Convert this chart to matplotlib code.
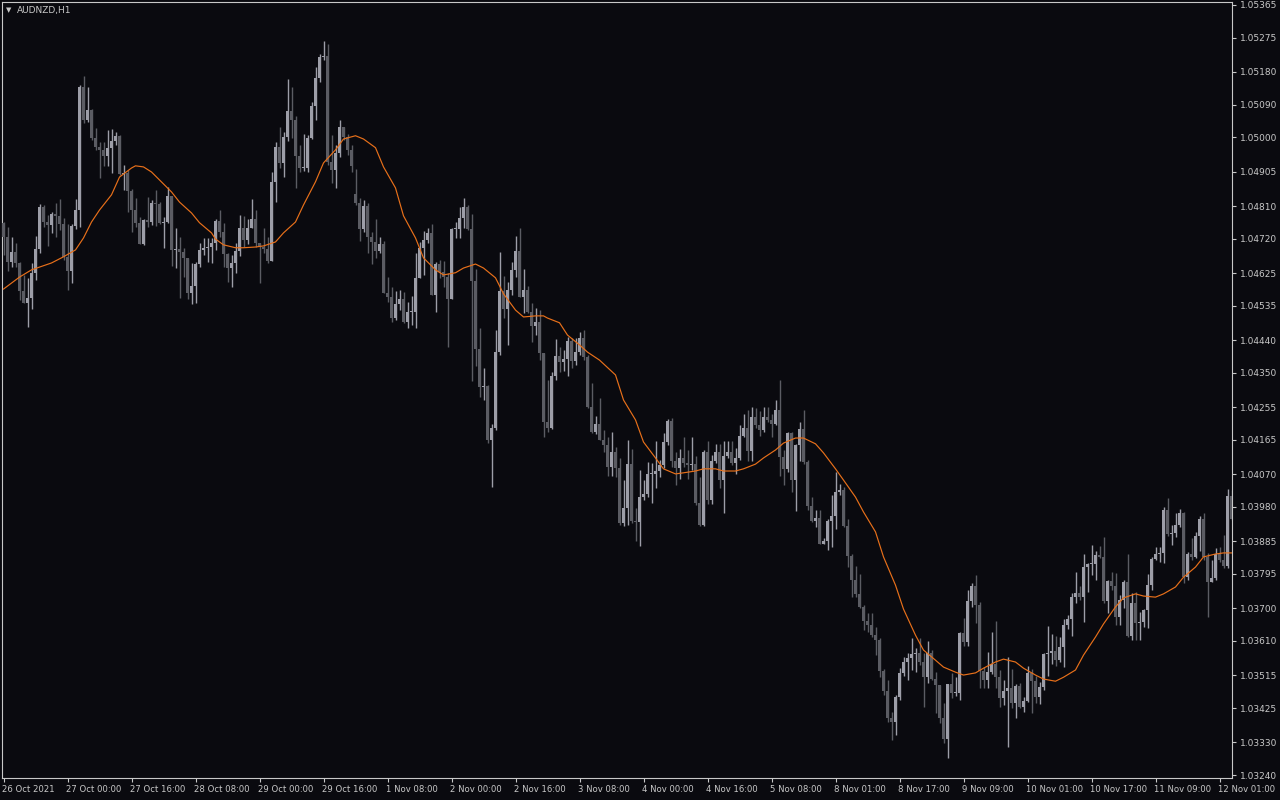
import numpy as np
import matplotlib
matplotlib.use("Agg")
import matplotlib.pyplot as plt
from matplotlib.transforms import ScaledTranslation

symbol_title = "AUDNZD,H1"

# prices in points (1e-5)
first_open_pts = 104764
gap_opens_pts = {88: 104844}

closes_pts = [
104725,104656,104683,104653,104576,104543,104557,104626,104692,104808,104766,104758,104788,104783,104761,104670,
104631,104755,104799,105139,105048,105075,104998,104973,104965,104948,104971,104990,105004,104899,104902,104852,
104799,104764,104706,104772,104766,104819,104816,104764,104766,104838,104689,104692,104683,104667,104570,104590,
104650,104689,104695,104697,104708,104769,104739,104678,104639,104653,104686,104750,104717,104750,104775,104708,
104697,104692,104659,104877,104973,104929,105001,105073,105048,104948,104915,104915,104998,105086,105164,105222,
105224,104932,104910,104957,105028,105001,104965,104921,104819,104747,104810,104725,104711,104686,104706,104570,
104559,104501,104540,104554,104490,104518,104518,104612,104695,104717,104736,104565,104650,104628,104614,104554,
104747,104747,104777,104808,104747,104603,104416,104311,104314,104165,104198,104407,104576,104526,104579,104634,
104686,104559,104579,104518,104479,104490,104405,104214,104198,104341,104396,104380,104388,104438,104383,104407,
104446,104394,104256,104187,104209,104165,104151,104090,104131,104087,103936,103977,104098,103941,103938,104007,
104016,104071,104071,104079,104096,104159,104217,104107,104087,104115,104101,104096,104098,103991,103930,104131,
103999,104107,104131,104054,104120,104131,104101,104115,104176,104198,104134,104228,104206,104192,104228,104220,
104209,104247,104118,104085,104184,104054,104151,104195,104104,103982,103941,103949,103878,103886,103941,103955,
104021,104027,103927,103844,103778,103740,103704,103665,103654,103626,103613,103527,103472,103397,103386,103455,
103522,103552,103563,103574,103577,103552,103510,103577,103505,103488,103397,103339,103491,103466,103466,103632,
103607,103720,103762,103709,103527,103502,103524,103546,103510,103453,103472,103480,103439,103486,103428,103444,
103522,103499,103455,103483,103574,103577,103582,103557,103593,103654,103671,103731,103742,103731,103814,103822,
103822,103847,103842,103720,103775,103762,103676,103723,103773,103624,103715,103660,103662,103695,103764,103836,
103850,103853,103971,103905,103908,103930,103963,103786,103850,103842,103900,103947,103842,103773,103784,103850,
103833,103817,104010,103947,
]

highs_pts = [
104766,104752,104725,104708,104656,104620,104612,104653,104728,104816,104813,104786,104794,104819,104830,104777,
104761,104761,104830,105144,105169,105139,105078,105026,104987,104987,105020,105023,105015,105006,104924,104910,
104857,104833,104780,104775,104835,104827,104855,104821,104780,104863,104838,104750,104725,104695,104667,104653,
104656,104708,104722,104722,104722,104775,104799,104764,104681,104675,104708,104786,104783,104775,104830,104799,
104708,104750,104725,104904,104987,105028,105015,105161,105139,105059,104979,105009,105006,105097,105194,105230,
105266,105258,105006,104979,105048,105028,105009,104979,104913,104833,104827,104819,104739,104775,104725,104714,
104614,104587,104576,104579,104573,104545,104562,104681,104711,104741,104750,104761,104656,104661,104659,104626,
104750,104766,104808,104833,104813,104788,104637,104474,104363,104316,104209,104468,104683,104617,104601,104656,
104728,104750,104637,104590,104543,104529,104523,104399,104330,104352,104443,104421,104413,104449,104446,104446,
104463,104468,104399,104322,104231,104281,104192,104173,104187,104145,104115,104054,104165,104140,103977,104082,
104054,104104,104101,104162,104109,104184,104223,104225,104131,104140,104173,104137,104173,104120,104062,104137,
104162,104123,104154,104154,104162,104162,104162,104143,104206,104236,104247,104256,104253,104245,104256,104256,
104236,104275,104330,104137,104187,104187,104154,104214,104247,104109,104007,103971,103971,103894,103947,104013,
104076,104043,104035,103947,103850,103817,103795,103709,103687,103687,103648,103618,103533,103502,103414,103461,
103535,103566,103577,103618,103591,103618,103577,103610,103585,103524,103488,103439,103491,103522,103510,103635,
103673,103751,103770,103792,103717,103538,103579,103635,103665,103530,103502,103566,103533,103491,103494,103455,
103541,103533,103513,103497,103577,103651,103629,103624,103621,103671,103682,103742,103800,103762,103850,103825,
103875,103858,103872,103897,103778,103800,103798,103737,103778,103850,103742,103745,103690,103698,103795,103842,
103869,103869,103980,104005,103930,103963,103974,103966,103855,103894,103911,103955,103963,103853,103833,103867,
103869,103902,104029,104027,
]

lows_pts = [
104675,104631,104642,104642,104551,104543,104476,104526,104606,104681,104752,104700,104736,104725,104744,104661,
104579,104598,104747,104752,105040,105042,104993,104965,104888,104921,104921,104902,104979,104896,104855,104794,
104739,104752,104706,104703,104752,104758,104755,104761,104695,104764,104645,104639,104557,104614,104554,104540,
104543,104642,104675,104656,104653,104689,104725,104642,104601,104587,104626,104672,104697,104706,104750,104697,
104598,104681,104653,104659,104821,104915,104890,104990,104998,104860,104904,104907,104904,104995,105048,105153,
105213,104924,104874,104860,104946,104993,104951,104904,104813,104714,104739,104681,104650,104667,104681,104570,
104545,104490,104496,104523,104488,104474,104482,104474,104612,104620,104708,104565,104518,104612,104587,104421,
104557,104722,104722,104750,104744,104327,104369,104283,104275,104156,104035,104192,104399,104501,104427,104565,
104614,104559,104515,104515,104435,104454,104385,104173,104187,104195,104330,104352,104355,104341,104363,104372,
104399,104385,104253,104184,104181,104165,104131,104065,104065,104062,103930,103927,103930,103936,103886,103872,
103999,104007,103991,104032,104062,104087,104151,104090,104040,104057,104090,104057,104082,103985,103927,103927,
103988,103988,104101,104032,103963,104115,104096,104071,104109,104173,104107,104107,104198,104176,104187,104214,
104173,104206,104065,104040,104076,104021,103969,104107,104098,103971,103938,103924,103878,103878,103861,103869,
103919,104013,103924,103814,103731,103731,103701,103640,103635,103621,103571,103510,103461,103386,103337,103350,
103447,103513,103502,103530,103524,103544,103428,103494,103502,103411,103384,103328,103287,103453,103458,103447,
103596,103596,103704,103660,103480,103480,103480,103519,103480,103428,103433,103317,103425,103397,103425,103414,
103441,103411,103439,103436,103475,103513,103546,103541,103552,103538,103643,103624,103715,103723,103662,103745,
103792,103778,103839,103715,103687,103751,103654,103654,103701,103621,103613,103613,103613,103648,103646,103751,
103833,103828,103825,103900,103875,103897,103924,103770,103778,103833,103839,103858,103833,103676,103773,103778,
103828,103811,103811,103944,
]

# smoothed moving average (orange) read at candle indices
ma_idx = [0,4,7,12,15,18,20,22,24,27,29,32,33,35,37,39,42,44,47,49,52,53,55,58,60,63,65,68,70,73,75,78,80,83,85,88,
          90,93,95,98,100,103,105,108,110,113,115,118,120,123,125,128,130,133,135,136,139,141,144,146,149,153,155,158,
          160,163,165,168,170,173,175,178,180,183,185,188,190,193,195,198,200,203,205,208,210,213,215,218,220,223,225,
          228,230,233,235,238,240,243,245,248,250,253,255,258,260,263,265,268,270,273,275,278,280,283,285,288,290,293,
          295,298,300,303,305,307]
ma_pts = [104581,104614,104634,104653,104670,104689,104722,104766,104799,104841,104890,104915,104921,104918,104904,
          104882,104849,104821,104791,104764,104736,104719,104703,104695,104695,104697,104700,104711,104736,104766,
          104813,104877,104929,104965,104995,105004,104995,104971,104918,104860,104783,104722,104667,104634,104620,
          104626,104639,104650,104639,104612,104568,104523,104504,104507,104507,104501,104488,104454,104427,104407,
          104385,104344,104275,104220,104159,104115,104085,104071,104074,104079,104085,104085,104079,104079,104085,
          104098,104115,104137,104156,104170,104170,104154,104129,104085,104054,104007,103966,103911,103842,103764,
          103698,103626,103585,103557,103538,103524,103516,103522,103535,103552,103560,103552,103535,103516,103505,
          103499,103510,103530,103571,103621,103657,103704,103729,103740,103734,103731,103740,103759,103786,103814,
          103842,103850,103853,103853]

x_labels = ["26 Oct 2021", "27 Oct 00:00", "27 Oct 16:00", "28 Oct 08:00", "29 Oct 00:00", "29 Oct 16:00",
            "1 Nov 08:00", "2 Nov 00:00", "2 Nov 16:00", "3 Nov 08:00", "4 Nov 00:00", "4 Nov 16:00",
            "5 Nov 08:00", "8 Nov 01:00", "8 Nov 17:00", "9 Nov 09:00", "10 Nov 01:00", "10 Nov 17:00",
            "11 Nov 09:00", "12 Nov 01:00"]
x_label_idx = list(range(0, 16 * len(x_labels), 16))

y_labels = ["1.05365", "1.05275", "1.05180", "1.05090", "1.05000", "1.04905", "1.04810", "1.04720",
            "1.04625", "1.04535", "1.04440", "1.04350", "1.04255", "1.04165", "1.04070", "1.03980",
            "1.03885", "1.03795", "1.03700", "1.03610", "1.03515", "1.03425", "1.03330", "1.03240"]

# ---------------------------------------------------------------
closes = np.array(closes_pts) / 1e5
highs = np.array(highs_pts) / 1e5
lows = np.array(lows_pts) / 1e5
opens = np.empty_like(closes)
opens[0] = first_open_pts / 1e5
opens[1:] = closes[:-1]
for k, v in gap_opens_pts.items():
    opens[k] = v / 1e5
highs = np.maximum(highs, np.maximum(opens, closes))
lows = np.minimum(lows, np.minimum(opens, closes))
idx = np.arange(len(closes))

BG = "#0a0a0f"
FG = "#c8c8c8"
BULL = "#9d9ea8"
BEAR = "#5b5c63"
MA_COL = "#e8701a"

W, H = 1280, 800
fig = plt.figure(figsize=(W / 100, H / 100), dpi=100, facecolor=BG)
ax = fig.add_axes([2 / W, 1 - 778 / H, 1230 / W, 776 / H])
ax.set_facecolor(BG)

bull = closes >= opens
cols = np.where(bull, BULL, BEAR)
ax.vlines(idx, lows, highs, colors=cols, linewidth=1.0, zorder=2)
body_bottom = np.minimum(opens, closes)
body_h = np.maximum(np.abs(closes - opens), 0.000025)
ax.bar(idx, body_h, bottom=body_bottom, width=0.72, color=cols, edgecolor='none', zorder=3)

ax.plot(ma_idx, np.array(ma_pts) / 1e5, color=MA_COL, linewidth=0.85, zorder=4)

ax.set_xlim(-0.375, 307.125)
ax.set_ylim(1.03232, 1.05373)

for s in ax.spines.values():
    s.set_color(FG)
    s.set_linewidth(0.8)

ax.yaxis.tick_right()
ax.set_yticks([float(v) for v in y_labels])
ax.set_yticklabels(y_labels)
ax.tick_params(axis='y', direction='out', length=3, width=0.8, colors=FG, labelsize=6.5, pad=3)

ax.set_xticks(x_label_idx)
ax.set_xticklabels(x_labels, ha='left')
ax.tick_params(axis='x', direction='out', length=3, width=0.8, colors=FG, labelsize=6.1, pad=2)
shift = ScaledTranslation(-2 / 100, 0, fig.dpi_scale_trans)
for lbl in ax.get_xticklabels():
    lbl.set_horizontalalignment('left')
    lbl.set_transform(lbl.get_transform() + shift)

ax.text(0.003, 0.993, "\u25BC", transform=ax.transAxes, color=FG, fontsize=5, va='top', ha='left')
ax.text(0.0125, 0.995, symbol_title, transform=ax.transAxes, color=FG, fontsize=6.5, va='top', ha='left')

fig.savefig("out.png", dpi=100, facecolor=BG)
